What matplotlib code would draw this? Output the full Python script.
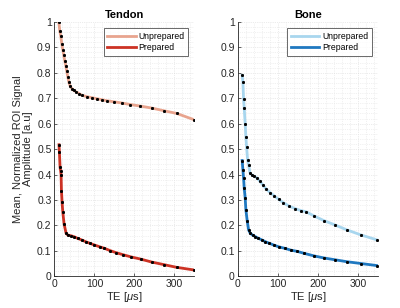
import matplotlib
matplotlib.use("Agg")
import matplotlib.pyplot as plt
from matplotlib.ticker import MultipleLocator

plt.rcParams['font.family'] = ['Liberation Sans', 'DejaVu Sans']
plt.rcParams['mathtext.fontset'] = 'custom'
plt.rcParams['mathtext.it'] = 'Liberation Sans:italic'
plt.rcParams['mathtext.rm'] = 'Liberation Sans'

# Tendon data
tendon_unprep_te = [11, 13.5, 16, 18.5, 21, 23.5, 26, 28.5, 31, 33.5, 36, 39.5, 43.6, 47.8, 54.5,
                    62, 68, 81, 94, 106, 119, 131, 148, 169, 190, 215, 244, 273, 306, 348]
tendon_unprep_val = [1.0, 0.964, 0.943, 0.914, 0.890, 0.868, 0.846, 0.828, 0.805, 0.784, 0.764,
                     0.747, 0.738, 0.731, 0.725, 0.718, 0.712, 0.706, 0.702, 0.698, 0.694, 0.690,
                     0.686, 0.681, 0.675, 0.669, 0.661, 0.651, 0.640, 0.616]
tendon_prep_te = [11.5, 12.5, 14.2, 15.5, 16.7, 17.6, 19.2, 21, 24.2, 29.2, 33.4, 42, 50, 58, 68,
                  78, 88, 100, 113, 125, 139, 154, 171, 192, 217, 243, 273, 306, 348]
tendon_prep_val = [0.517, 0.487, 0.428, 0.415, 0.400, 0.337, 0.291, 0.252, 0.206, 0.169, 0.162,
                   0.159, 0.155, 0.149, 0.143, 0.136, 0.130, 0.123, 0.116, 0.110, 0.101, 0.093,
                   0.085, 0.076, 0.067, 0.056, 0.046, 0.035, 0.025]

# Bone data
bone_unprep_te = [11.4, 13.2, 14.9, 16.4, 18.9, 20.6, 22.4, 24.9, 27.4, 30.6, 35.6, 41.3, 48,
                  54.7, 63, 71, 81, 91, 102, 114, 128, 143, 158, 170, 190.5, 214.7, 242, 272.6,
                  308, 347]
bone_unprep_val = [0.79, 0.763, 0.696, 0.663, 0.598, 0.547, 0.507, 0.457, 0.438, 0.407, 0.398,
                   0.393, 0.387, 0.375, 0.359, 0.343, 0.329, 0.316, 0.303, 0.289, 0.276, 0.266,
                   0.258, 0.254, 0.237, 0.219, 0.202, 0.182, 0.162, 0.143]
bone_prep_te = [11.4, 13.2, 14.9, 16.4, 18.9, 20.6, 24, 27.4, 31.4, 37.3, 43.8, 52, 60.4, 68.7,
                78.6, 89.6, 102, 117, 132, 148, 166, 190.5, 215, 242, 273, 308, 347]
bone_prep_val = [0.455, 0.418, 0.385, 0.348, 0.307, 0.261, 0.217, 0.182, 0.169, 0.162, 0.156,
                 0.149, 0.143, 0.136, 0.130, 0.123, 0.116, 0.110, 0.103, 0.098, 0.090, 0.080,
                 0.072, 0.065, 0.057, 0.050, 0.042]

legend_labels = ["Unprepared", "Prepared"]
titles = ["Tendon", "Bone"]
x_ticks = [0, 100, 200, 300]

fig = plt.figure(figsize=(4.0, 3.08), dpi=100)
ax1 = fig.add_axes([0.136, 0.103, 0.350, 0.826])
ax2 = fig.add_axes([0.594, 0.103, 0.3515, 0.826])

panels = [
    (ax1, tendon_unprep_te, tendon_unprep_val, tendon_prep_te, tendon_prep_val,
     '#e8a48e', '#cc3224', titles[0]),
    (ax2, bone_unprep_te, bone_unprep_val, bone_prep_te, bone_prep_val,
     '#a8d6ee', '#1f78c0', titles[1]),
]

for ax, ute, uval, pte, pval, cu, cp, title in panels:
    ax.plot(ute, uval, color=cu, lw=2.0, label=legend_labels[0], zorder=3)
    ax.plot(pte, pval, color=cp, lw=2.0, label=legend_labels[1], zorder=3)
    ax.plot(ute, uval, 's', color='black', ms=1.1, zorder=4)
    ax.plot(pte, pval, 's', color='black', ms=1.1, zorder=4)
    ax.set_xlim(0, 350)
    ax.set_ylim(0, 1)
    ax.set_xticks(x_ticks)
    ax.set_yticks([i / 10 for i in range(11)])
    ax.set_yticklabels(['0', '0.1', '0.2', '0.3', '0.4', '0.5', '0.6', '0.7', '0.8', '0.9', '1'])
    ax.xaxis.set_minor_locator(MultipleLocator(20))
    ax.yaxis.set_minor_locator(MultipleLocator(0.02))
    ax.grid(which='major', color='#d8d8d8', lw=0.5, ls=':')
    ax.grid(which='minor', color='#e4e4e4', lw=0.5, ls=':')
    ax.set_axisbelow(True)
    for s in ['top', 'right']:
        ax.spines[s].set_visible(False)
    for s in ['left', 'bottom']:
        ax.spines[s].set_color('#262626')
        ax.spines[s].set_linewidth(0.6)
    ax.tick_params(which='major', direction='in', length=2.5, width=0.5, colors='#262626',
                   labelsize=7.5, pad=2)
    ax.tick_params(which='minor', length=0)
    ax.set_title(title, fontsize=8, fontweight='bold', pad=3)
    ax.set_xlabel(r'TE [$\mu$s]', fontsize=8, labelpad=1, color='#262626')
    leg = ax.legend(loc='upper right', fontsize=6.2, frameon=True, fancybox=False,
                    handlelength=3.3, handletextpad=0.35, borderpad=0.4, labelspacing=0.3,
                    bbox_to_anchor=(0.955, 0.975), borderaxespad=0)
    leg.get_frame().set_edgecolor('#262626')
    leg.get_frame().set_linewidth(0.6)

ax1.set_ylabel('Mean, Normalized ROI Signal\nAmplitude [a.u]', fontsize=8, labelpad=3,
               color='#262626', linespacing=1.0)

fig.savefig('out.png', dpi=100)
